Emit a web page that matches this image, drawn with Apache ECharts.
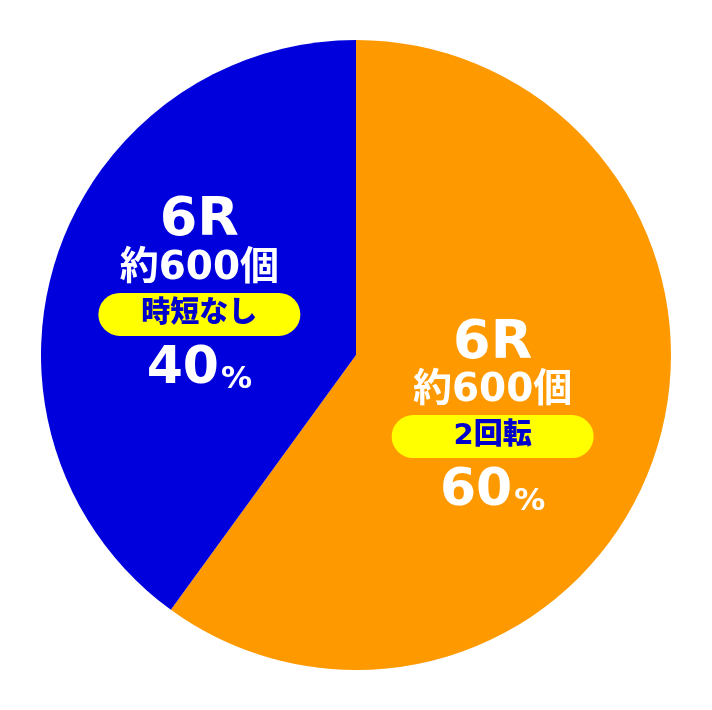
<!DOCTYPE html>
<html><head><meta charset="utf-8">
<script src="https://cdn.jsdelivr.net/npm/echarts@6/dist/echarts.min.js"></script>
<style>html,body{margin:0;padding:0;background:#fff}#c{width:712px;height:710px}</style>
</head><body><div id="c"></div>
<script>
const rounds = ['6R', '6R'];
const payouts = ['約600個', '約600個'];
const tags = ['2回転', '時短なし'];
const values = [60, 40];
const colors = ['#FF9900', '#0000DC'];
const offsets = [[-16, 17], [-4, -6]];

const FF = '"DejaVu Sans", "Noto Sans CJK JP", sans-serif';
const chart = echarts.init(document.getElementById('c'));
chart.setOption({
  animation: false,
  series: [{
    type: 'pie',
    center: [356, 355],
    radius: 315,
    startAngle: 90,
    clockwise: true,
    avoidLabelOverlap: false,
    labelLine: { show: false },
    data: values.map((v, i) => ({ value: v, name: tags[i], itemStyle: { color: colors[i] } })),
    label: {
      show: true,
      position: 'inside',
      formatter: p => {
        const i = p.dataIndex;
        return '{r|' + rounds[i] + '}\n{p|' + payouts[i] + '}\n{t|' + tags[i] + '}\n{v|' + values[i] + '}{pc|%}';
      },
      rich: {
        r: { fontFamily: FF, fontWeight: 'bold', fontSize: 54, color: '#fff', lineHeight: 48, align: 'center' },
        p: { fontFamily: FF, fontWeight: 'bold', fontSize: 39, color: '#fff', lineHeight: 46, align: 'center' },
        t: { fontFamily: FF, fontWeight: 900, fontSize: 29, color: '#0000CC', backgroundColor: '#FFFF00',
             borderRadius: 22, width: 202, height: 43, lineHeight: 46, align: 'center' },
        v: { fontFamily: FF, fontWeight: 'bold', fontSize: 52, color: '#fff', lineHeight: 64 },
        pc: { fontFamily: FF, fontWeight: 'bold', fontSize: 31, color: '#fff', lineHeight: 64, verticalAlign: 'bottom', padding: [0, 0, 6, 2] }
      }
    },
    labelLayout: p => ({ dx: offsets[p.dataIndex][0], dy: offsets[p.dataIndex][1] })
  }]
});
</script></body></html>
